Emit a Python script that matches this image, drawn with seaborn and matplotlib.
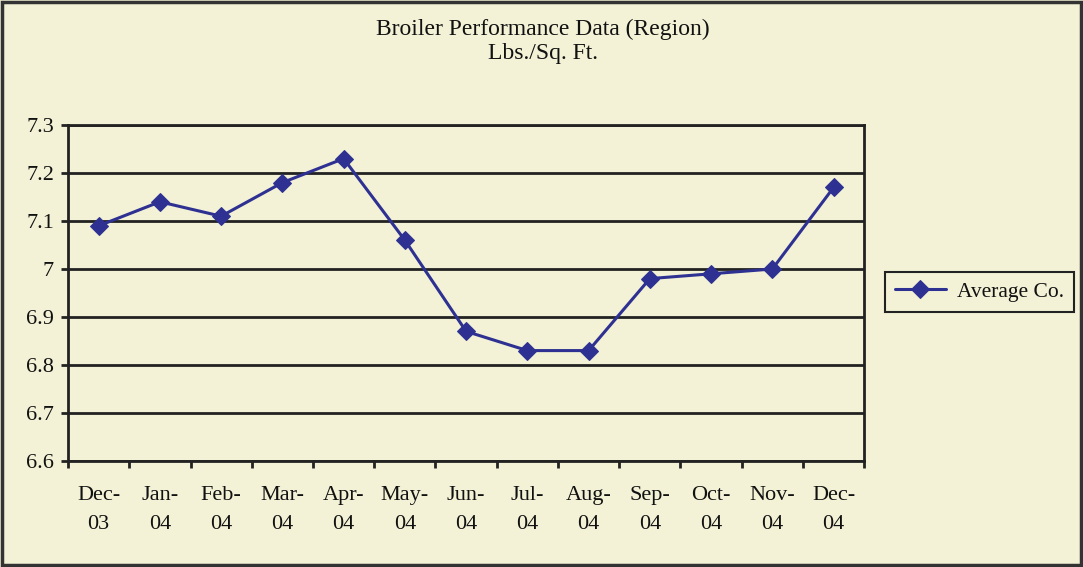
import numpy as np
import pandas as pd
import matplotlib
matplotlib.use("Agg")
import matplotlib.pyplot as plt
from matplotlib.patches import Rectangle
import seaborn as sns

# data
months = ["Dec-\n03", "Jan-\n04", "Feb-\n04", "Mar-\n04", "Apr-\n04", "May-\n04", "Jun-\n04",
          "Jul-\n04", "Aug-\n04", "Sep-\n04", "Oct-\n04", "Nov-\n04", "Dec-\n04"]
lbs_per_sqft = [7.09, 7.14, 7.11, 7.18, 7.23, 7.06, 6.87, 6.83, 6.83, 6.98, 6.99, 7.00, 7.17]
y_ticks = [6.6, 6.7, 6.8, 6.9, 7.0, 7.1, 7.2, 7.3]
y_tick_labels = ["6.6", "6.7", "6.8", "6.9", "7", "7.1", "7.2", "7.3"]

bg = "#F3F2D6"
navy = "#2E3192"

sns.set_theme(style="white")
plt.rcParams["font.family"] = ["Liberation Serif", "DejaVu Serif"]

df = pd.DataFrame({"month": months, "value": lbs_per_sqft, "pos": np.arange(len(months))})

fig = plt.figure(figsize=(10.83, 5.67), dpi=100, facecolor=bg)
ax = fig.add_axes([0.0628, 0.187, 0.7352, 0.5925])
ax.set_facecolor(bg)

sns.lineplot(data=df, x="pos", y="value", ax=ax, color=navy, linewidth=2.2,
             marker="D", markersize=9, markeredgecolor=navy, label="Average Co.", sort=False)

ax.set_xlim(-0.5, len(months) - 0.5)
ax.set_ylim(6.6, 7.3)
ax.set_yticks(y_ticks)
ax.set_yticklabels(y_tick_labels, fontsize=16)
ax.set_xticks(df["pos"])
ax.set_xticklabels(months, fontsize=16, linespacing=1.75)
ax.set_xticks(np.arange(-0.5, len(months)), minor=True)
ax.tick_params(axis="x", which="both", bottom=True)
ax.tick_params(axis="y", which="both", left=True)
ax.tick_params(axis="x", which="major", length=0, pad=18)
ax.tick_params(axis="x", which="minor", length=5, width=2, color="#222222", direction="out")
ax.tick_params(axis="y", length=5, width=2, color="#222222", direction="out", pad=5)
for lab in ax.get_xticklabels() + ax.get_yticklabels():
    lab.set_color("#111111")

ax.grid(axis="y", color="#222222", linewidth=2)
ax.set_axisbelow(True)
for side in ["left", "bottom", "right", "top"]:
    ax.spines[side].set_visible(True)
    ax.spines[side].set_color("#222222")
    ax.spines[side].set_linewidth(2)
ax.set_xlabel("")
ax.set_ylabel("")

fig.text(0.501, 0.949, "Broiler Performance Data (Region)", ha="center", va="center", fontsize=17, color="#111111")
fig.text(0.501, 0.906, "Lbs./Sq. Ft.", ha="center", va="center", fontsize=17, color="#111111")

leg = ax.legend(loc="center left", bbox_to_anchor=(1.026, 0.503), fontsize=15.5, frameon=True,
                fancybox=False, handlelength=2.4, borderpad=0.45, handletextpad=0.5,
                borderaxespad=0)
leg.get_frame().set_edgecolor("#222222")
leg.get_frame().set_linewidth(1.5)
leg.get_frame().set_facecolor(bg)
leg.get_frame().set_alpha(1)
for t in leg.get_texts():
    t.set_color("#111111")

fig.patches.append(Rectangle((0.002, 0.003), 0.996, 0.994, transform=fig.transFigure,
                             fill=False, edgecolor="#333333", linewidth=2.5))

fig.savefig("out.png", dpi=100, facecolor=bg)
